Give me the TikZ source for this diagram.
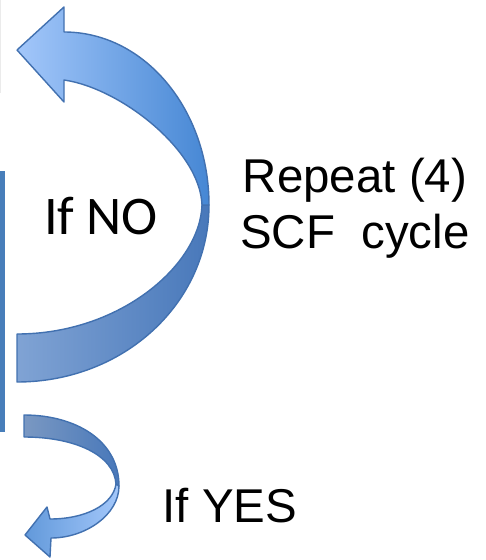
\documentclass[tikz,border=0pt]{standalone}
\usepackage{fontspec}
\setmainfont{Liberation Sans}
\newfontfamily\calibrilike{Carlito}

\definecolor{arrowline}{RGB}{66,113,176}
\definecolor{frontlight}{RGB}{163,199,250}
\definecolor{frontdark}{RGB}{70,135,212}
\definecolor{backlight}{RGB}{128,163,212}
\definecolor{backdark}{RGB}{72,120,186}
\definecolor{barblue}{RGB}{72,126,186}

\begin{document}
\begin{tikzpicture}[x=0.02cm,y=-0.02cm,line join=round,
  frontface/.style={draw=arrowline,line width=0.8pt,left color=frontlight,right color=frontdark},
  backface/.style={draw=arrowline,line width=0.8pt,left color=backlight,right color=backdark},
  bigtext/.style={font=\fontsize{27}{31.7}\selectfont,align=center,anchor=base}]

\useasboundingbox (0,0) rectangle (485,560);

% Edges of the boxes cut off at the left
\draw[black!8,line width=0.6pt] (0.3,0) -- (0.3,93);
\fill[barblue] (0,171) rectangle (5,432);

% Define points of the big arrow
\coordinate (tip) at (17,50);
\coordinate (barbA) at (64,7);
\coordinate (outA) at (64,32);
\coordinate (inA) at (64,80);
\coordinate (barbB) at (64,102);
\coordinate (twistOut) at (209,205);
\coordinate (twistIn) at (202,205);
\coordinate (tailIn) at (17,334);
\coordinate (tailOut) at (17,382);

% Back face of the big arrow
\draw[backface] (twistOut) .. controls (209,303) and (124,382) .. (tailOut)
  -- (tailIn) .. controls (120,334) and (200,265) .. (twistIn) -- cycle;

% Front face of the big arrow, with its head
\draw[frontface] (tip) -- (barbA) -- (outA) .. controls (145,32) and (209,110) .. (twistOut)
  -- (twistIn) .. controls (200,150) and (120,88) .. (inA) -- (barbB) -- cycle;

% Define points of the small arrow
\coordinate (stip) at (25,535);
\coordinate (sbarbA) at (47,507);
\coordinate (sinA) at (50,519);
\coordinate (soutA) at (51,538);
\coordinate (sbarbB) at (50,557);
\coordinate (stwistOut) at (119,486);
\coordinate (stwistIn) at (116,484);
\coordinate (stailOut) at (24,415);
\coordinate (stailIn) at (24,437);

% Back face of the small arrow
\draw[backface,left color=backlight!90!black!95,right color=backdark] (stailOut) .. controls (75,415) and (119,440) .. (stwistOut)
  -- (stwistIn) .. controls (114,455) and (75,437) .. (stailIn) -- cycle;

% Front face of the small arrow, with its head
\draw[frontface,left color=frontdark!85!white,right color=frontlight] (stip) -- (sbarbA) -- (sinA) .. controls (85,519) and (113,505) .. (stwistIn)
  -- (stwistOut) .. controls (119,515) and (85,538) .. (soutA) -- (sbarbB) -- cycle;

% Labels
\node[bigtext] (repeat) at (355,248) {Repeat (4)\\SCF\ \ cycle};
\node[anchor=base,font=\calibrilike\fontsize{31}{37}\selectfont] (ifno) at (101,235) {If NO};
\node[anchor=base,font=\fontsize{27}{32}\selectfont] (ifyes) at (230,522) {If YES};

\end{tikzpicture}
\end{document}
